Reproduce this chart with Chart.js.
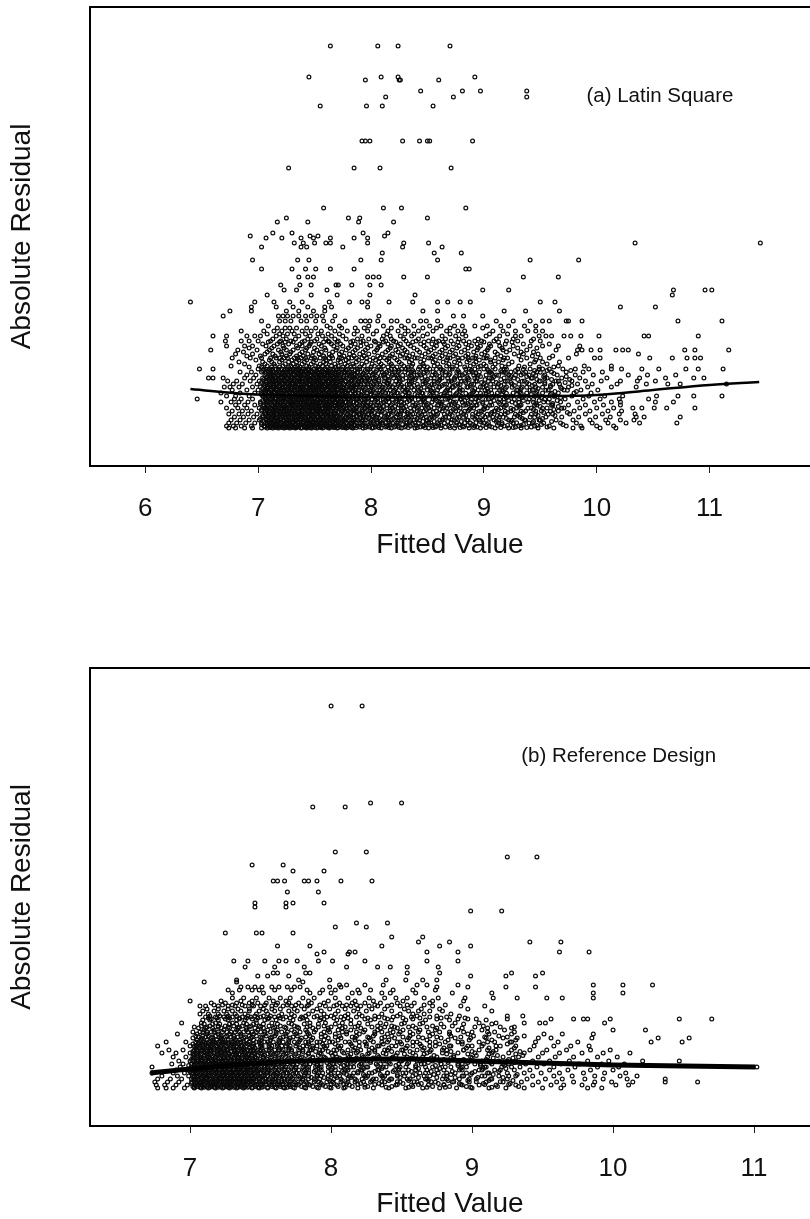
<!DOCTYPE html>
<html>
<head>
<meta charset="utf-8">
<title>Absolute residual vs fitted value</title>
<script src="https://cdn.jsdelivr.net/npm/chart.js@4/dist/chart.umd.js"></script>
<style>
  html, body { margin: 0; padding: 0; background: #fff; }
  #wrap { position: relative; width: 810px; height: 1219px; overflow: hidden; }
  canvas { position: absolute; left: 0; }
</style>
</head>
<body>
<div id="wrap">
  <canvas id="latin" width="810" height="562" style="top:0"></canvas>
  <canvas id="reference" width="810" height="621" style="top:600px"></canvas>
</div>
<script>
/* values, residual level first, then fitted values at that level */
const latinTicks = [6, 7, 8, 9, 10, 11];
const referenceTicks = [7, 8, 9, 10, 11];

const latinLineFitted = [6.40, 6.9, 7.5, 8, 8.5, 9, 9.5, 10, 10.5, 11, 11.44];
const latinLineResidual = [0.39, 0.34, 0.32, 0.31, 0.31, 0.32, 0.32, 0.33, 0.38, 0.43, 0.46];
const referenceLineFitted = [6.72, 7, 7.5, 8, 8.5, 9, 9.5, 10, 10.5, 11.01];
const referenceLineResidual = [0.15, 0.19, 0.25, 0.28, 0.29, 0.27, 0.25, 0.23, 0.22, 0.21];

const latinRows = [
  [3.82, [7.64, 8.06, 8.24, 8.70]],
  [3.51, [7.45, 8.09, 8.24, 8.92]],
  [3.48, [7.95, 8.25, 8.26, 8.60]],
  [3.37, [8.44, 8.81, 8.97, 9.38]],
  [3.31, [8.13, 8.73, 9.38]],
  [3.22, [7.55, 7.96, 8.10, 8.55]],
  [2.87, [7.92, 7.95, 7.99, 8.28, 8.43, 8.50, 8.52, 8.90]],
  [2.60, [7.27, 7.85, 8.08, 8.71]],
  [2.20, [7.58, 8.11, 8.27, 8.84]],
  [2.10, [7.25, 7.80, 7.90, 8.50]],
  [2.06, [7.17, 7.44, 7.89, 8.20]],
  [1.95, [7.13, 7.30, 7.93, 8.15]],
  [1.92, [6.93, 7.46, 7.53, 8.12]],
  [1.90, [7.07, 7.21, 7.38, 7.49, 7.64, 7.85, 7.97]],
  [1.85, [7.32, 7.40, 7.50, 7.60, 7.64, 7.97, 8.29, 8.51, 10.34, 11.45]],
  [1.81, [7.03, 7.38, 7.43, 7.75, 8.28, 8.63]],
  [1.75, [8.10, 8.56, 8.80]],
  [1.68, [6.95, 7.35, 7.45, 7.91, 8.09, 8.59, 9.41, 9.84]],
  [1.59, [7.03, 7.30, 7.42, 7.51, 7.64, 7.85, 8.84, 8.87]],
  [1.51, [7.36, 7.44, 7.49, 7.97, 8.02, 8.07, 8.29, 8.50, 9.35, 9.66]],
  [1.43, [7.20, 7.37, 7.47, 7.69, 7.71, 7.83, 7.99, 8.09]],
  [1.38, [7.23, 7.34, 7.61, 8.99, 9.22, 10.68, 10.96, 11.02]],
  [1.33, [7.08, 7.47, 7.70, 7.99, 8.39, 10.67]],
  [1.26, [6.40, 6.97, 7.14, 7.28, 7.39, 7.63, 7.81, 7.92, 7.97, 8.16, 8.37, 8.59, 8.68, 8.79, 8.88, 9.50, 9.63]],
  [1.21, [6.94, 7.16, 7.59, 7.65, 7.97, 10.21, 10.52, 7.31, 7.44]],
  [1.17, [6.75, 6.94, 7.49, 7.59, 8.46, 8.59, 9.18, 9.37, 9.67, 7.25, 7.36]],
  [1.12, [6.69, 7.18, 7.22, 7.26, 7.36, 7.47, 7.57, 8.07, 8.73, 8.82, 8.99, 7.31, 7.42, 7.52, 7.68]],
  [1.07, [7.03, 7.19, 7.24, 7.29, 7.38, 7.43, 7.51, 7.58, 7.66, 7.77, 7.91, 7.95, 7.99, 8.06, 8.18, 8.23, 8.33, 8.44, 8.49, 8.59, 9.11, 9.26, 9.41, 9.52, 9.58, 9.73, 9.75, 9.87, 10.72, 11.11]],
  [1.02, [7.09, 7.61, 7.72, 7.98, 8.11, 8.27, 8.38, 8.52, 8.62, 8.74, 8.81, 8.92, 9.03, 9.15, 9.22, 9.36, 9.46]],
  [0.97, [6.85, 7.05, 7.14, 7.21, 7.30, 7.39, 7.47, 7.56, 7.68, 7.79, 7.88, 7.97, 8.05, 8.15, 8.24, 8.33, 8.42, 8.55, 8.67, 8.77, 8.83, 9.08, 9.17, 9.28, 9.39, 9.46, 9.52]],
  [0.92, [6.60, 6.72, 6.90, 6.97, 7.02, 7.16, 7.22, 7.36, 7.46, 7.57, 7.65, 7.75, 7.92, 8.11, 8.17, 8.26, 8.36, 8.46, 8.63, 8.75, 8.84, 9.02, 9.14, 9.28, 9.33, 9.49, 9.55, 9.60, 9.71, 9.77, 9.86, 10.02, 10.42, 10.46, 10.90]],
  [0.87, [6.71, 6.85, 6.92, 7.00, 7.11, 7.20, 7.29, 7.41, 7.50, 7.62, 7.71, 7.84, 7.93, 8.03, 8.13, 8.20, 8.31, 8.40, 8.51, 8.60, 8.71, 8.82, 8.92, 8.98, 9.09, 9.20, 9.30, 9.42, 9.50]],
  [0.82, [6.72, 6.88, 6.95, 7.07, 7.14, 7.22, 7.34, 7.39, 7.45, 7.56, 7.67, 7.75, 7.82, 7.91, 8.00, 8.08, 8.18, 8.24, 8.35, 8.47, 8.58, 8.68, 8.78, 8.89, 8.97, 9.06, 9.14, 9.26, 9.41, 9.52, 9.66, 9.85]],
  [0.78, [6.58, 6.82, 6.99, 7.10, 7.18, 7.25, 7.31, 7.42, 7.52, 7.60, 7.69, 7.78, 7.86, 7.95, 8.05, 8.15, 8.22, 8.30, 8.41, 8.53, 8.63, 8.72, 8.83, 8.94, 9.03, 9.17, 9.23, 9.38, 9.64, 9.83, 9.87, 9.95, 10.03, 10.17, 10.23, 10.28, 10.78, 10.87, 11.17]],
  [0.74, [6.80, 6.95, 7.06, 7.13, 7.21, 7.28, 7.37, 7.44, 7.54, 7.63, 7.72, 7.81, 7.90, 7.98, 8.10, 8.19, 8.28, 8.37, 8.48, 8.57, 8.66, 8.75, 8.86, 8.98, 9.12, 9.27, 9.35, 9.48, 9.82, 10.37]],
  [0.70, [6.77, 6.93, 7.16, 7.23, 7.32, 7.38, 7.47, 7.55, 7.66, 7.74, 7.83, 7.92, 8.02, 8.12, 8.21, 8.32, 8.39, 8.51, 8.61, 8.70, 8.81, 8.90, 9.00, 9.10, 9.21, 9.50, 9.58, 9.75, 9.98, 10.03, 10.47, 10.67, 10.80, 10.87, 10.92]],
  [0.66, [6.83, 7.04, 7.12, 7.19, 7.27, 7.34, 7.41, 7.49, 7.58, 7.64, 7.73, 7.80, 7.87, 7.96, 8.07, 8.16, 8.25, 8.34, 8.44, 8.55, 8.64, 8.74, 8.85, 8.93, 9.06, 9.13, 9.25, 9.45, 9.52, 9.67]],
  [0.62, [6.76, 7.01, 7.08, 7.15, 7.22, 7.29, 7.35, 7.43, 7.51, 7.57, 7.65, 7.71, 7.79, 7.85, 7.94, 8.03, 8.11, 8.19, 8.29, 8.36, 8.47, 8.56, 8.67, 8.76, 8.88, 8.97, 9.02, 9.16, 9.31, 9.66, 9.89, 10.13]],
  [0.59, [6.48, 6.60, 7.00, 7.05, 7.10, 7.16, 7.21, 7.26, 7.31, 7.36, 7.40, 7.45, 7.50, 7.55, 7.60, 7.66, 7.74, 7.83, 7.90, 7.99, 8.08, 8.18, 8.27, 8.33, 8.42, 8.52, 8.62, 8.72, 8.84, 8.92, 9.00, 9.10, 9.20, 9.30, 9.41, 9.52, 9.58, 9.70, 9.81, 9.93, 10.13, 10.22, 10.40, 10.55, 10.79, 10.90, 11.12]],
  [0.56, [6.84, 6.94, 7.03, 7.09, 7.13, 7.19, 7.24, 7.29, 7.33, 7.38, 7.43, 7.48, 7.53, 7.58, 7.63, 7.69, 7.77, 7.81, 7.88, 7.96, 8.04, 8.14, 8.21, 8.30, 8.38, 8.47, 8.55, 8.66, 8.78, 8.87, 8.96, 9.06, 9.16, 9.24, 9.37, 9.47, 9.60, 9.73, 9.88, 10.05]],
  [0.53, [6.90, 6.98, 7.06, 7.12, 7.17, 7.22, 7.27, 7.32, 7.37, 7.41, 7.46, 7.51, 7.56, 7.61, 7.65, 7.71, 7.79, 7.86, 7.92, 8.01, 8.11, 8.23, 8.35, 8.44, 8.58, 8.69, 8.81, 8.91, 9.02, 9.11, 9.22, 9.33, 9.40, 9.54, 9.65, 9.81, 9.97, 10.28, 10.45, 10.70]],
  [0.50, [6.56, 6.60, 6.69, 6.88, 6.96, 7.04, 7.10, 7.15, 7.20, 7.25, 7.30, 7.35, 7.39, 7.44, 7.49, 7.54, 7.59, 7.64, 7.70, 7.76, 7.84, 7.94, 8.02, 8.12, 8.20, 8.31, 8.40, 8.53, 8.63, 8.74, 8.86, 8.94, 9.05, 9.18, 9.27, 9.43, 9.56, 9.69, 9.85, 10.09, 10.38, 10.61, 10.86, 10.95]],
  [0.47, [6.73, 6.81, 6.93, 7.01, 7.07, 7.13, 7.18, 7.23, 7.28, 7.33, 7.37, 7.42, 7.47, 7.52, 7.57, 7.62, 7.68, 7.73, 7.82, 7.91, 7.98, 8.07, 8.16, 8.26, 8.36, 8.49, 8.60, 8.71, 8.83, 8.93, 9.08, 9.21, 9.36, 9.50, 9.64, 9.78, 9.90, 10.04, 10.21, 10.36, 10.52]],
  [0.44, [6.78, 6.86, 6.99, 7.05, 7.11, 7.16, 7.21, 7.26, 7.31, 7.35, 7.40, 7.45, 7.50, 7.55, 7.60, 7.66, 7.72, 7.80, 7.87, 7.97, 8.05, 8.15, 8.24, 8.34, 8.46, 8.56, 8.67, 8.77, 8.89, 9.00, 9.13, 9.25, 9.40, 9.54, 9.67, 9.83, 9.96, 10.18, 10.44, 10.63, 10.74, 11.15]],
  [0.41, [6.70, 6.75, 6.83, 6.95, 7.02, 7.08, 7.14, 7.19, 7.24, 7.29, 7.34, 7.39, 7.43, 7.48, 7.53, 7.58, 7.63, 7.69, 7.75, 7.83, 7.93, 8.01, 8.10, 8.19, 8.29, 8.42, 8.52, 8.61, 8.72, 8.85, 8.97, 9.09, 9.20, 9.34, 9.46, 9.59, 9.75, 9.92, 10.13, 10.35]],
  [0.38, [6.77, 6.90, 7.00, 7.06, 7.12, 7.17, 7.22, 7.27, 7.32, 7.37, 7.41, 7.46, 7.51, 7.56, 7.61, 7.67, 7.74, 7.81, 7.89, 7.99, 8.08, 8.17, 8.28, 8.38, 8.50, 8.59, 8.70, 8.81, 8.95, 9.06, 9.16, 9.30, 9.43, 9.57, 9.71, 9.86, 10.01]],
  [0.35, [6.67, 6.84, 6.97, 7.03, 7.10, 7.15, 7.20, 7.25, 7.30, 7.35, 7.40, 7.44, 7.49, 7.54, 7.59, 7.65, 7.71, 7.78, 7.86, 7.96, 8.04, 8.13, 8.23, 8.33, 8.45, 8.55, 8.65, 8.76, 8.90, 9.02, 9.12, 9.26, 9.38, 9.52, 9.66, 9.80, 9.95]],
  [0.32, [6.72, 6.80, 6.92, 7.04, 7.09, 7.13, 7.18, 7.23, 7.28, 7.33, 7.38, 7.42, 7.47, 7.52, 7.57, 7.62, 7.68, 7.76, 7.84, 7.92, 8.02, 8.10, 8.21, 8.31, 8.41, 8.53, 8.64, 8.74, 8.87, 8.98, 9.11, 9.24, 9.36, 9.49, 9.63, 9.78, 9.93, 10.07, 10.23, 10.53, 10.72, 10.86, 11.11]],
  [0.29, [6.46, 6.79, 6.85, 6.95, 7.06, 7.11, 7.16, 7.21, 7.26, 7.31, 7.36, 7.41, 7.45, 7.50, 7.55, 7.60, 7.66, 7.73, 7.80, 7.88, 7.97, 8.06, 8.15, 8.25, 8.36, 8.47, 8.57, 8.68, 8.80, 8.93, 9.04, 9.18, 9.31, 9.44, 9.58, 9.72, 9.88, 10.03, 10.20, 10.46]],
  [0.26, [6.67, 6.76, 6.83, 6.91, 7.02, 7.08, 7.14, 7.19, 7.24, 7.29, 7.34, 7.38, 7.43, 7.48, 7.53, 7.58, 7.63, 7.69, 7.77, 7.85, 7.94, 8.03, 8.11, 8.22, 8.32, 8.44, 8.54, 8.63, 8.75, 8.88, 8.99, 9.13, 9.25, 9.39, 9.53, 9.68, 9.83, 9.98, 10.13, 10.21, 10.52, 10.68]],
  [0.23, [6.80, 6.88, 6.97, 7.05, 7.12, 7.17, 7.22, 7.27, 7.32, 7.37, 7.42, 7.46, 7.51, 7.56, 7.61, 7.67, 7.72, 7.81, 7.90, 7.99, 8.07, 8.18, 8.27, 8.39, 8.49, 8.60, 8.71, 8.84, 8.94, 9.07, 9.20, 9.33, 9.47, 9.61, 9.75, 9.90, 10.06, 10.21]],
  [0.20, [6.72, 6.82, 6.90, 7.01, 7.07, 7.13, 7.18, 7.23, 7.28, 7.33, 7.38, 7.42, 7.47, 7.52, 7.57, 7.63, 7.70, 7.78, 7.87, 7.95, 8.04, 8.14, 8.24, 8.35, 8.45, 8.56, 8.67, 8.79, 8.91, 9.03, 9.15, 9.29, 9.42, 9.56, 9.71, 9.85, 10.00, 10.15, 10.32, 10.40, 10.51, 10.62, 10.87]],
  [0.17, [6.77, 6.86, 6.94, 7.03, 7.10, 7.15, 7.20, 7.25, 7.30, 7.35, 7.40, 7.44, 7.49, 7.54, 7.59, 7.65, 7.75, 7.84, 7.92, 8.01, 8.10, 8.20, 8.30, 8.41, 8.52, 8.63, 8.75, 8.86, 8.98, 9.10, 9.24, 9.37, 9.51, 9.66, 9.80, 9.94, 10.10, 10.22]],
  [0.14, [6.74, 6.83, 6.91, 6.99, 7.06, 7.12, 7.17, 7.22, 7.27, 7.32, 7.37, 7.42, 7.46, 7.51, 7.56, 7.61, 7.68, 7.79, 7.89, 7.97, 8.06, 8.16, 8.26, 8.37, 8.48, 8.59, 8.70, 8.82, 8.95, 9.06, 9.19, 9.32, 9.46, 9.61, 9.76, 9.90, 10.05, 10.20, 10.34]],
  [0.11, [6.79, 6.87, 6.96, 7.04, 7.09, 7.14, 7.19, 7.24, 7.29, 7.34, 7.39, 7.44, 7.48, 7.53, 7.58, 7.64, 7.72, 7.82, 7.93, 8.02, 8.12, 8.22, 8.33, 8.44, 8.54, 8.66, 8.78, 8.90, 9.01, 9.14, 9.27, 9.41, 9.55, 9.69, 9.84, 9.99, 10.12, 10.35, 10.42, 10.74]],
  [0.08, [6.76, 6.84, 6.92, 7.01, 7.07, 7.12, 7.17, 7.22, 7.27, 7.32, 7.37, 7.41, 7.46, 7.51, 7.56, 7.62, 7.69, 7.77, 7.86, 7.95, 8.05, 8.15, 8.27, 8.38, 8.49, 8.61, 8.72, 8.85, 8.96, 9.09, 9.22, 9.36, 9.49, 9.64, 9.79, 9.94, 10.08, 10.21, 10.33]],
  [0.05, [6.74, 6.81, 6.89, 6.97, 7.03, 7.10, 7.15, 7.20, 7.25, 7.30, 7.35, 7.40, 7.44, 7.49, 7.54, 7.59, 7.66, 7.74, 7.83, 7.91, 8.00, 8.10, 8.19, 8.31, 8.42, 8.53, 8.65, 8.76, 8.88, 9.00, 9.13, 9.26, 9.40, 9.53, 9.68, 9.82, 9.96, 10.10, 10.26, 10.38, 10.71]],
  [0.02, [6.72, 6.78, 6.85, 6.94, 7.05, 7.11, 7.16, 7.21, 7.26, 7.31, 7.36, 7.41, 7.45, 7.50, 7.55, 7.60, 7.67, 7.72, 7.80, 7.88, 7.96, 8.06, 8.14, 8.24, 8.35, 8.46, 8.58, 8.69, 8.81, 8.92, 9.05, 9.18, 9.31, 9.45, 9.58, 9.73, 9.86, 10.00, 10.15]],
  [0.00, [6.74, 6.80, 6.88, 6.95, 7.03, 7.08, 7.13, 7.18, 7.23, 7.28, 7.33, 7.38, 7.43, 7.47, 7.52, 7.57, 7.63, 7.70, 7.78, 7.84, 7.93, 8.01, 8.09, 8.18, 8.27, 8.39, 8.51, 8.62, 8.74, 8.87, 8.97, 9.10, 9.22, 9.33, 9.48, 9.62, 9.79, 9.87, 10.03, 10.17]]
];

/* the solid black part of panel (a) and the busy band over it */
const latinDenseRows = [
  [0.01, [7.06, 7.10, 7.15, 7.19, 7.24, 7.27, 7.32, 7.35, 7.41, 7.44, 7.48, 7.53, 7.56, 7.61, 7.65, 7.68, 7.74, 7.77, 7.82, 7.90, 7.98, 8.04, 8.13, 8.21, 8.30, 8.44, 8.57, 8.66, 8.82, 8.94, 9.07, 9.28, 9.42, 9.56]],
  [0.035, [7.03, 7.08, 7.12, 7.17, 7.22, 7.26, 7.29, 7.34, 7.38, 7.43, 7.47, 7.51, 7.55, 7.59, 7.64, 7.69, 7.72, 7.76, 7.85, 7.93, 8.03, 8.11, 8.17, 8.28, 8.37, 8.49, 8.60, 8.78, 8.90, 9.03, 9.16, 9.35, 9.51, 9.70]],
  [0.065, [7.05, 7.09, 7.14, 7.18, 7.23, 7.28, 7.31, 7.36, 7.40, 7.45, 7.49, 7.53, 7.58, 7.61, 7.66, 7.70, 7.75, 7.80, 7.84, 7.92, 7.99, 8.08, 8.16, 8.24, 8.34, 8.46, 8.56, 8.68, 8.80, 8.97, 9.11, 9.24, 9.44, 9.60]],
  [0.095, [7.02, 7.07, 7.11, 7.16, 7.20, 7.25, 7.30, 7.33, 7.38, 7.42, 7.47, 7.50, 7.55, 7.60, 7.63, 7.67, 7.73, 7.78, 7.85, 7.90, 7.98, 8.04, 8.13, 8.20, 8.29, 8.41, 8.52, 8.64, 8.76, 8.92, 9.05, 9.20, 9.34, 9.52]],
  [0.125, [7.04, 7.09, 7.13, 7.18, 7.22, 7.26, 7.31, 7.35, 7.39, 7.44, 7.48, 7.52, 7.57, 7.62, 7.66, 7.70, 7.75, 7.81, 7.87, 7.94, 8.01, 8.09, 8.18, 8.26, 8.35, 8.45, 8.58, 8.72, 8.84, 8.99, 9.12, 9.30, 9.48, 9.63]],
  [0.155, [7.06, 7.10, 7.14, 7.19, 7.23, 7.27, 7.32, 7.36, 7.41, 7.45, 7.50, 7.53, 7.58, 7.62, 7.67, 7.71, 7.77, 7.82, 7.88, 7.95, 8.03, 8.12, 8.22, 8.32, 8.43, 8.55, 8.68, 8.80, 8.93, 9.07, 9.21, 9.35, 9.53, 9.74]],
  [0.185, [7.03, 7.08, 7.12, 7.16, 7.21, 7.25, 7.30, 7.34, 7.39, 7.43, 7.46, 7.51, 7.55, 7.60, 7.64, 7.69, 7.74, 7.79, 7.85, 7.92, 7.99, 8.08, 8.17, 8.27, 8.38, 8.49, 8.61, 8.73, 8.87, 9.00, 9.13, 9.26, 9.44, 9.62]],
  [0.215, [7.05, 7.09, 7.15, 7.19, 7.24, 7.29, 7.33, 7.38, 7.42, 7.47, 7.50, 7.54, 7.59, 7.64, 7.68, 7.72, 7.76, 7.83, 7.88, 7.96, 8.02, 8.11, 8.21, 8.31, 8.42, 8.53, 8.65, 8.77, 8.89, 9.01, 9.18, 9.31, 9.50, 9.66]],
  [0.245, [7.02, 7.07, 7.11, 7.15, 7.20, 7.26, 7.30, 7.35, 7.40, 7.44, 7.49, 7.53, 7.58, 7.62, 7.65, 7.71, 7.75, 7.80, 7.87, 7.93, 8.00, 8.09, 8.19, 8.29, 8.40, 8.50, 8.62, 8.74, 8.86, 8.99, 9.14, 9.28, 9.46, 9.61]],
  [0.275, [7.04, 7.08, 7.13, 7.18, 7.22, 7.27, 7.32, 7.36, 7.39, 7.43, 7.48, 7.52, 7.57, 7.61, 7.66, 7.70, 7.74, 7.82, 7.89, 7.95, 8.04, 8.13, 8.23, 8.34, 8.46, 8.58, 8.70, 8.83, 8.95, 9.09, 9.22, 9.35, 9.49, 9.65]],
  [0.305, [7.06, 7.10, 7.15, 7.20, 7.24, 7.29, 7.34, 7.37, 7.41, 7.46, 7.50, 7.55, 7.59, 7.64, 7.67, 7.72, 7.78, 7.83, 7.90, 7.98, 8.06, 8.15, 8.26, 8.36, 8.48, 8.60, 8.71, 8.85, 8.96, 9.07, 9.20, 9.34, 9.51, 9.68]],
  [0.335, [7.03, 7.07, 7.12, 7.17, 7.22, 7.25, 7.31, 7.36, 7.39, 7.44, 7.48, 7.53, 7.56, 7.61, 7.65, 7.69, 7.74, 7.79, 7.86, 7.91, 8.00, 8.08, 8.18, 8.28, 8.39, 8.52, 8.62, 8.75, 8.88, 9.02, 9.16, 9.29, 9.42, 9.59]],
  [0.365, [7.05, 7.09, 7.14, 7.18, 7.23, 7.28, 7.33, 7.37, 7.42, 7.47, 7.51, 7.54, 7.58, 7.63, 7.68, 7.73, 7.77, 7.84, 7.92, 8.00, 8.10, 8.20, 8.30, 8.43, 8.54, 8.66, 8.79, 8.91, 9.04, 9.17, 9.32, 9.47, 9.63, 9.82]],
  [0.395, [7.04, 7.08, 7.11, 7.16, 7.21, 7.26, 7.30, 7.35, 7.40, 7.45, 7.49, 7.52, 7.57, 7.62, 7.66, 7.71, 7.76, 7.82, 7.87, 7.95, 8.03, 8.12, 8.22, 8.33, 8.44, 8.55, 8.68, 8.79, 8.92, 9.03, 9.19, 9.33, 9.48, 9.69]],
  [0.425, [7.06, 7.10, 7.14, 7.19, 7.24, 7.28, 7.33, 7.38, 7.41, 7.46, 7.51, 7.55, 7.59, 7.64, 7.68, 7.72, 7.79, 7.85, 7.91, 8.00, 8.08, 8.17, 8.27, 8.38, 8.51, 8.63, 8.75, 8.88, 9.02, 9.15, 9.27, 9.43, 9.59, 9.78]],
  [0.455, [7.03, 7.07, 7.12, 7.17, 7.22, 7.27, 7.31, 7.34, 7.39, 7.43, 7.48, 7.53, 7.56, 7.62, 7.66, 7.70, 7.75, 7.81, 7.89, 7.96, 8.04, 8.14, 8.25, 8.36, 8.48, 8.59, 8.72, 8.84, 8.98, 9.11, 9.24, 9.38, 9.54, 9.72]],
  [0.485, [7.05, 7.09, 7.13, 7.18, 7.23, 7.28, 7.32, 7.37, 7.42, 7.46, 7.50, 7.54, 7.60, 7.65, 7.69, 7.74, 7.80, 7.86, 7.92, 7.99, 8.07, 8.16, 8.28, 8.39, 8.50, 8.61, 8.74, 8.87, 9.01, 9.15, 9.30, 9.47, 9.60, 9.76]],
  [0.515, [7.08, 7.12, 7.15, 7.20, 7.24, 7.29, 7.34, 7.38, 7.43, 7.47, 7.52, 7.57, 7.61, 7.66, 7.70, 7.76, 7.83, 7.88, 7.96, 8.05, 8.15, 8.24, 8.36, 8.48, 8.61, 8.75, 8.85, 8.97, 9.09, 9.24, 9.38, 9.53, 9.73]],
  [0.545, [7.07, 7.11, 7.16, 7.21, 7.26, 7.31, 7.35, 7.40, 7.44, 7.49, 7.54, 7.59, 7.63, 7.68, 7.74, 7.80, 7.85, 7.93, 8.02, 8.12, 8.19, 8.33, 8.43, 8.57, 8.70, 8.83, 8.93, 9.07, 9.20, 9.35, 9.44, 9.62]],
  [0.575, [7.04, 7.09, 7.13, 7.18, 7.23, 7.28, 7.33, 7.38, 7.42, 7.47, 7.52, 7.57, 7.62, 7.67, 7.72, 7.78, 7.86, 7.95, 8.05, 8.16, 8.25, 8.37, 8.49, 8.64, 8.77, 8.89, 9.04, 9.15, 9.28, 9.45, 9.56, 9.77]],
  [0.61, [6.92, 7.03, 7.12, 7.19, 7.27, 7.33, 7.37, 7.45, 7.53, 7.61, 7.69, 7.75, 7.82, 7.90, 8.00, 8.07, 8.15, 8.23, 8.33, 8.43, 8.50, 8.61, 8.72, 8.83, 8.95, 9.08, 9.19, 9.36, 9.49, 9.62]],
  [0.64, [6.88, 7.06, 7.14, 7.24, 7.31, 7.39, 7.47, 7.55, 7.60, 7.68, 7.77, 7.84, 7.92, 8.01, 8.09, 8.18, 8.27, 8.37, 8.46, 8.59, 8.69, 8.79, 8.91, 9.00, 9.10, 9.22, 9.41, 9.56]],
  [0.68, [6.98, 7.10, 7.21, 7.30, 7.36, 7.43, 7.51, 7.60, 7.71, 7.78, 7.89, 7.99, 8.04, 8.14, 8.23, 8.36, 8.47, 8.57, 8.67, 8.78, 8.87, 8.96, 9.06, 9.17, 9.33, 9.46]],
  [0.72, [6.90, 7.02, 7.15, 7.25, 7.34, 7.40, 7.48, 7.58, 7.65, 7.76, 7.85, 7.94, 8.06, 8.17, 8.26, 8.34, 8.45, 8.55, 8.63, 8.73, 8.84, 8.93, 9.03, 9.15, 9.31, 9.43, 9.61]],
  [0.76, [6.87, 7.08, 7.20, 7.29, 7.39, 7.49, 7.56, 7.66, 7.74, 7.84, 7.93, 8.03, 8.13, 8.24, 8.32, 8.43, 8.51, 8.61, 8.70, 8.80, 8.91, 9.01, 9.10, 9.20, 9.33, 9.44]],
  [0.80, [6.92, 7.12, 7.23, 7.35, 7.43, 7.50, 7.59, 7.70, 7.80, 7.88, 7.97, 8.06, 8.17, 8.28, 8.38, 8.49, 8.56, 8.66, 8.76, 8.86, 8.95, 9.04, 9.16, 9.30, 9.47]],
  [0.84, [7.04, 7.17, 7.27, 7.37, 7.46, 7.54, 7.65, 7.73, 7.86, 7.96, 8.07, 8.15, 8.26, 8.33, 8.44, 8.54, 8.65, 8.73, 8.84, 8.94, 9.05, 9.19, 9.35, 9.58]],
  [0.89, [7.13, 7.25, 7.33, 7.44, 7.52, 7.60, 7.68, 7.78, 7.88, 7.98, 8.10, 8.18, 8.29, 8.42, 8.55, 8.66, 8.78, 8.95, 9.11, 9.26, 9.44]],
  [0.94, [7.08, 7.19, 7.26, 7.32, 7.42, 7.53, 7.62, 7.72, 7.85, 8.02, 8.14, 8.30, 8.38, 8.50, 8.70, 8.81, 9.05, 9.21]],
  [1.00, [7.17, 7.24, 7.28, 7.34, 7.43, 7.51, 7.64, 7.74, 7.86, 7.94, 8.18, 8.30, 8.46, 8.58, 8.70, 8.99]]
];

/* extra layer where the black of panel (a) closes up */
const latinFillRows = [
  [0.004, [7.11, 7.16, 7.21, 7.25, 7.30, 7.34, 7.39, 7.42, 7.46, 7.50, 7.55, 7.58, 7.62, 7.67, 7.71, 7.75, 7.79, 7.83, 7.87, 7.95, 8.02, 8.07, 8.16, 8.25, 8.33, 8.41, 8.48, 8.55, 8.70, 8.79, 8.91, 9.02, 9.15, 9.26, 9.38]],
  [0.026, [7.09, 7.14, 7.18, 7.23, 7.28, 7.33, 7.37, 7.42, 7.46, 7.49, 7.54, 7.58, 7.62, 7.66, 7.71, 7.75, 7.81, 7.86, 7.92, 7.98, 8.07, 8.15, 8.22, 8.31, 8.40, 8.47, 8.54, 8.62, 8.75, 8.86, 8.99, 9.12, 9.21, 9.33, 9.47]],
  [0.052, [7.08, 7.13, 7.17, 7.21, 7.27, 7.31, 7.36, 7.39, 7.43, 7.48, 7.52, 7.56, 7.60, 7.64, 7.68, 7.73, 7.78, 7.82, 7.87, 7.94, 8.02, 8.06, 8.13, 8.23, 8.32, 8.39, 8.51, 8.59, 8.71, 8.83, 8.93, 9.04, 9.16, 9.29, 9.43]],
  [0.078, [7.10, 7.15, 7.20, 7.25, 7.29, 7.34, 7.38, 7.43, 7.47, 7.50, 7.54, 7.59, 7.64, 7.68, 7.71, 7.76, 7.81, 7.88, 7.93, 8.00, 8.09, 8.18, 8.25, 8.35, 8.43, 8.50, 8.63, 8.74, 8.86, 8.99, 9.13, 9.25, 9.37, 9.50]],
  [0.108, [7.08, 7.12, 7.17, 7.22, 7.27, 7.32, 7.36, 7.41, 7.45, 7.49, 7.53, 7.57, 7.61, 7.65, 7.69, 7.74, 7.80, 7.84, 7.91, 7.96, 8.05, 8.14, 8.22, 8.31, 8.39, 8.49, 8.56, 8.69, 8.82, 8.94, 9.08, 9.17, 9.32, 9.45]],
  [0.138, [7.07, 7.11, 7.16, 7.20, 7.25, 7.29, 7.33, 7.38, 7.43, 7.47, 7.51, 7.55, 7.60, 7.64, 7.68, 7.73, 7.79, 7.85, 7.90, 7.98, 8.06, 8.15, 8.24, 8.33, 8.42, 8.53, 8.65, 8.77, 8.90, 9.03, 9.15, 9.28, 9.42, 9.57]],
  [0.168, [7.08, 7.13, 7.17, 7.22, 7.26, 7.31, 7.35, 7.39, 7.44, 7.48, 7.52, 7.56, 7.61, 7.65, 7.69, 7.74, 7.80, 7.86, 7.93, 7.99, 8.07, 8.17, 8.27, 8.36, 8.47, 8.58, 8.71, 8.83, 8.96, 9.09, 9.19, 9.33, 9.46, 9.59]],
  [0.198, [7.06, 7.11, 7.15, 7.20, 7.25, 7.30, 7.35, 7.40, 7.45, 7.49, 7.53, 7.57, 7.62, 7.66, 7.70, 7.75, 7.81, 7.87, 7.94, 8.00, 8.09, 8.19, 8.29, 8.41, 8.51, 8.64, 8.75, 8.88, 9.00, 9.11, 9.24, 9.39, 9.52, 9.69]],
  [0.228, [7.08, 7.13, 7.18, 7.23, 7.26, 7.31, 7.36, 7.40, 7.44, 7.48, 7.52, 7.57, 7.60, 7.65, 7.70, 7.74, 7.79, 7.85, 7.92, 7.97, 8.05, 8.14, 8.25, 8.37, 8.47, 8.59, 8.69, 8.82, 8.93, 9.05, 9.19, 9.32, 9.45, 9.60]],
  [0.258, [7.09, 7.14, 7.17, 7.22, 7.28, 7.32, 7.37, 7.41, 7.46, 7.51, 7.55, 7.60, 7.64, 7.68, 7.73, 7.78, 7.84, 7.90, 7.97, 8.06, 8.16, 8.27, 8.37, 8.48, 8.61, 8.73, 8.81, 8.92, 9.06, 9.18, 9.31, 9.44, 9.57]],
  [0.288, [7.07, 7.12, 7.15, 7.20, 7.25, 7.30, 7.35, 7.38, 7.42, 7.47, 7.53, 7.56, 7.61, 7.66, 7.71, 7.76, 7.81, 7.87, 7.94, 8.01, 8.11, 8.19, 8.30, 8.42, 8.55, 8.66, 8.79, 8.89, 9.02, 9.14, 9.27, 9.40, 9.54]],
  [0.318, [7.08, 7.13, 7.19, 7.22, 7.27, 7.30, 7.35, 7.40, 7.44, 7.49, 7.54, 7.58, 7.63, 7.67, 7.70, 7.75, 7.81, 7.88, 7.94, 8.03, 8.12, 8.19, 8.33, 8.44, 8.56, 8.68, 8.80, 8.94, 9.08, 9.19, 9.32, 9.45, 9.62]],
  [0.348, [7.09, 7.14, 7.18, 7.23, 7.28, 7.33, 7.38, 7.42, 7.46, 7.51, 7.55, 7.60, 7.63, 7.67, 7.72, 7.77, 7.82, 7.89, 7.97, 8.06, 8.15, 8.24, 8.34, 8.46, 8.58, 8.70, 8.84, 8.97, 9.07, 9.20, 9.33, 9.46, 9.60]],
  [0.378, [7.07, 7.11, 7.16, 7.20, 7.26, 7.30, 7.35, 7.39, 7.44, 7.49, 7.53, 7.57, 7.61, 7.66, 7.70, 7.75, 7.80, 7.86, 7.94, 8.02, 8.11, 8.21, 8.32, 8.42, 8.53, 8.67, 8.78, 8.90, 9.01, 9.14, 9.29, 9.41, 9.55, 9.74]],
  [0.408, [7.09, 7.13, 7.18, 7.22, 7.27, 7.32, 7.37, 7.42, 7.47, 7.50, 7.54, 7.59, 7.64, 7.67, 7.73, 7.78, 7.84, 7.90, 7.98, 8.07, 8.16, 8.26, 8.36, 8.47, 8.60, 8.73, 8.86, 8.99, 9.12, 9.25, 9.38, 9.52, 9.68]],
  [0.438, [7.08, 7.13, 7.16, 7.21, 7.26, 7.30, 7.35, 7.40, 7.45, 7.48, 7.52, 7.57, 7.62, 7.65, 7.70, 7.76, 7.83, 7.88, 7.94, 8.02, 8.11, 8.21, 8.32, 8.41, 8.54, 8.65, 8.79, 8.91, 9.06, 9.18, 9.31, 9.45, 9.61]],
  [0.468, [7.10, 7.15, 7.20, 7.24, 7.29, 7.35, 7.39, 7.44, 7.49, 7.54, 7.58, 7.63, 7.67, 7.71, 7.77, 7.83, 7.89, 7.95, 8.03, 8.12, 8.22, 8.34, 8.46, 8.56, 8.69, 8.80, 8.94, 9.04, 9.19, 9.34, 9.49, 9.66]],
  [0.498, [7.11, 7.16, 7.21, 7.26, 7.30, 7.35, 7.40, 7.45, 7.48, 7.52, 7.56, 7.62, 7.67, 7.72, 7.78, 7.85, 7.90, 7.97, 8.04, 8.13, 8.25, 8.35, 8.45, 8.56, 8.68, 8.79, 8.92, 9.07, 9.23, 9.42, 9.54]],
  [0.528, [7.10, 7.14, 7.18, 7.23, 7.27, 7.32, 7.36, 7.41, 7.46, 7.50, 7.55, 7.59, 7.64, 7.69, 7.73, 7.81, 7.90, 7.98, 8.09, 8.19, 8.28, 8.41, 8.54, 8.66, 8.79, 8.95, 9.13, 9.28, 9.46]],
  [0.558, [7.11, 7.14, 7.19, 7.25, 7.28, 7.34, 7.39, 7.42, 7.47, 7.51, 7.56, 7.61, 7.65, 7.71, 7.76, 7.83, 7.91, 8.00, 8.10, 8.24, 8.36, 8.50, 8.63, 8.76, 8.90, 9.05, 9.18, 9.31, 9.50]],
  [0.588, [7.07, 7.12, 7.18, 7.24, 7.29, 7.34, 7.39, 7.44, 7.49, 7.54, 7.59, 7.64, 7.70, 7.79, 7.88, 7.97, 8.09, 8.21, 8.31, 8.46, 8.58, 8.70, 8.87, 9.03, 9.18, 9.35, 9.49]],
  [0.70, [7.03, 7.11, 7.19, 7.26, 7.35, 7.42, 7.50, 7.59, 7.63, 7.72, 7.80, 7.87, 7.96, 8.08, 8.16, 8.30, 8.41, 8.53, 8.68, 8.77, 8.86, 8.92, 9.02, 9.18, 9.38]],
  [0.86, [7.09, 7.19, 7.24, 7.31, 7.39, 7.47, 7.58, 7.63, 7.70, 7.82, 7.91, 8.04, 8.11, 8.22, 8.37, 8.47, 8.58, 8.64, 8.77, 8.87, 9.00, 9.13, 9.25]]
];

const referenceRows = [
  [3.82, [8.00, 8.22]],
  [2.85, [8.28, 8.50]],
  [2.81, [7.87, 8.10]],
  [2.36, [8.03, 8.25]],
  [2.31, [9.25, 9.46]],
  [2.23, [7.44, 7.66]],
  [2.17, [7.73, 7.95]],
  [2.07, [7.59, 7.62, 7.67, 7.81, 7.84, 7.90, 8.07, 8.29]],
  [1.96, [7.69, 7.91]],
  [1.85, [7.46, 7.68, 7.73, 7.95]],
  [1.81, [7.46, 7.68]],
  [1.77, [8.99, 9.21]],
  [1.65, [8.18, 8.40]],
  [1.61, [8.03, 8.25]],
  [1.55, [7.25, 7.47, 7.51, 7.73]],
  [1.51, [8.43, 8.65]],
  [1.46, [8.62, 8.84, 9.41, 9.63]],
  [1.42, [7.62, 7.85, 8.36, 8.77, 8.99]],
  [1.36, [7.95, 8.13, 8.17, 8.68, 8.90, 9.62, 9.83]],
  [1.34, [7.90, 8.12]],
  [1.27, [7.31, 7.41, 7.53, 7.63, 7.68, 7.76, 7.91, 8.01, 8.24, 8.68, 8.90]],
  [1.21, [7.39, 7.60, 7.81, 8.11, 8.33, 8.42, 8.54, 8.76]],
  [1.15, [7.59, 7.62, 7.82, 7.85, 8.54, 8.77, 9.28, 9.50]],
  [1.12, [7.48, 7.55, 7.70, 8.99, 9.24, 9.45]],
  [1.08, [7.33, 7.77, 7.99, 8.39, 8.53, 8.65, 8.75]],
  [1.06, [7.10, 7.33, 7.80]],
  [1.03, [8.06, 8.11, 8.24, 8.37, 8.61, 8.68, 8.90, 9.86, 10.07, 10.28]],
  [1.01, [7.36, 7.41, 7.46, 7.51, 7.58, 7.63, 7.69, 7.74, 7.78, 7.99, 8.07, 8.75, 8.97, 9.24, 9.45]],
  [0.95, [7.30, 7.52, 7.85, 7.92, 8.00, 8.15, 8.20, 8.36, 8.42, 8.60, 8.86, 9.14, 9.86, 10.07]],
  [0.90, [7.30, 7.38, 7.47, 7.56, 7.64, 7.71, 7.80, 7.88, 8.03, 8.12, 8.27, 8.38, 8.46, 8.54, 8.66, 8.76, 8.95, 9.15, 9.32, 9.53, 9.64, 9.86]],
  [0.87, [7.00, 7.22, 7.36, 7.44, 7.59, 7.68, 7.84, 7.98, 8.17, 8.30, 8.51, 8.72, 8.94]],
  [0.82, [7.07, 7.11, 7.20, 7.27, 7.32, 7.39, 7.45, 7.50, 7.58, 7.66, 7.72, 7.79, 7.83, 7.96, 8.02, 8.08, 8.14, 8.21, 8.27, 8.33, 8.40, 8.49, 8.57, 8.72, 8.92, 9.09]],
  [0.77, [7.09, 7.17, 7.24, 7.30, 7.36, 7.42, 7.49, 7.54, 7.60, 7.70, 7.76, 7.87, 7.93, 8.05, 8.16, 8.25, 8.43, 8.55, 8.62, 8.70, 8.79, 9.14]],
  [0.72, [7.14, 7.21, 7.27, 7.33, 7.41, 7.46, 7.52, 7.57, 7.63, 7.74, 7.82, 7.90, 8.00, 8.10, 8.22, 8.31, 8.47, 8.61, 8.75, 8.91, 9.25, 9.36]],
  [0.69, [7.15, 7.25, 7.35, 7.44, 7.55, 7.66, 7.78, 7.95, 8.09, 8.24, 8.31, 8.40, 8.58, 8.75, 8.90, 8.97, 9.03, 9.25, 9.56, 9.72, 9.79, 9.82, 9.98, 10.47, 10.70]],
  [0.65, [6.94, 7.08, 7.18, 7.30, 7.38, 7.47, 7.58, 7.70, 7.85, 7.96, 8.08, 8.20, 8.35, 8.52, 8.65, 8.88, 9.05, 9.17, 9.37, 9.48, 9.52, 9.94]],
  [0.61, [7.03, 7.12, 7.20, 7.27, 7.35, 7.42, 7.50, 7.60, 7.67, 7.76, 7.83, 7.91, 8.00, 8.10, 8.17, 8.29, 8.38, 8.45, 8.55, 8.68, 8.80, 9.02, 9.20, 9.30]],
  [0.58, [7.10, 7.17, 7.24, 7.33, 7.40, 7.48, 7.55, 7.62, 7.72, 7.82, 7.89, 7.98, 8.05, 8.14, 8.24, 8.33, 8.42, 8.51, 8.63, 8.74, 8.90, 9.07, 9.23, 10.00, 10.23]],
  [0.54, [6.91, 7.05, 7.12, 7.20, 7.28, 7.36, 7.45, 7.53, 7.61, 7.68, 7.75, 7.84, 7.93, 8.03, 8.11, 8.20, 8.31, 8.40, 8.48, 8.58, 8.72, 8.84, 8.97, 9.12, 9.28, 9.51, 9.64, 9.86]],
  [0.50, [7.02, 7.08, 7.15, 7.22, 7.31, 7.38, 7.43, 7.51, 7.57, 7.64, 7.71, 7.79, 7.87, 7.98, 8.07, 8.17, 8.27, 8.36, 8.45, 8.55, 8.65, 8.78, 8.88, 8.99, 9.10, 9.22, 9.32, 9.47, 9.56, 9.85, 10.32, 10.54]],
  [0.46, [6.83, 6.97, 7.04, 7.10, 7.17, 7.24, 7.30, 7.36, 7.42, 7.49, 7.55, 7.63, 7.70, 7.77, 7.84, 7.92, 8.01, 8.10, 8.20, 8.30, 8.40, 8.49, 8.61, 8.70, 8.81, 8.90, 9.05, 9.16, 9.27, 9.45, 9.61, 9.75, 10.27, 10.49]],
  [0.42, [6.77, 7.00, 7.07, 7.13, 7.19, 7.25, 7.31, 7.37, 7.44, 7.50, 7.56, 7.62, 7.68, 7.75, 7.83, 7.90, 7.97, 8.05, 8.15, 8.25, 8.34, 8.43, 8.54, 8.64, 8.74, 8.85, 8.97, 9.07, 9.20, 9.31, 9.44, 9.58, 9.70, 9.83]],
  [0.38, [6.85, 6.95, 7.03, 7.09, 7.15, 7.20, 7.26, 7.32, 7.38, 7.43, 7.48, 7.54, 7.60, 7.66, 7.72, 7.80, 7.86, 7.94, 8.02, 8.12, 8.21, 8.31, 8.40, 8.50, 8.61, 8.71, 8.82, 8.94, 9.05, 9.17, 9.28, 9.41, 9.53, 9.67, 9.84, 9.98]],
  [0.35, [6.80, 6.90, 7.00, 7.05, 7.11, 7.17, 7.22, 7.27, 7.33, 7.39, 7.45, 7.51, 7.57, 7.62, 7.69, 7.77, 7.84, 7.92, 8.00, 8.09, 8.18, 8.27, 8.37, 8.47, 8.58, 8.68, 8.79, 8.90, 9.02, 9.14, 9.26, 9.37, 9.50, 9.62, 9.78, 9.93, 10.12]],
  [0.31, [6.88, 6.97, 7.02, 7.08, 7.13, 7.18, 7.24, 7.29, 7.34, 7.40, 7.46, 7.52, 7.58, 7.65, 7.72, 7.79, 7.87, 7.95, 8.04, 8.13, 8.23, 8.34, 8.44, 8.54, 8.65, 8.75, 8.87, 8.99, 9.11, 9.22, 9.33, 9.47, 9.59, 9.72, 9.89, 10.03]],
  [0.27, [6.92, 7.00, 7.06, 7.11, 7.16, 7.21, 7.26, 7.31, 7.36, 7.42, 7.47, 7.53, 7.60, 7.67, 7.74, 7.82, 7.90, 7.99, 8.07, 8.17, 8.28, 8.39, 8.50, 8.61, 8.72, 8.83, 8.95, 9.07, 9.19, 9.31, 9.43, 9.55, 9.69, 9.82, 9.97, 10.21, 10.47]],
  [0.24, [6.87, 6.95, 7.03, 7.09, 7.14, 7.19, 7.24, 7.29, 7.34, 7.38, 7.44, 7.50, 7.55, 7.62, 7.69, 7.76, 7.85, 7.93, 8.02, 8.11, 8.21, 8.32, 8.42, 8.54, 8.66, 8.78, 8.90, 9.02, 9.14, 9.26, 9.38, 9.51, 9.63, 9.76, 9.92, 10.08]],
  [0.21, [6.73, 6.93, 7.01, 7.07, 7.12, 7.17, 7.22, 7.27, 7.32, 7.37, 7.41, 7.47, 7.53, 7.58, 7.65, 7.72, 7.80, 7.89, 7.98, 8.07, 8.16, 8.26, 8.37, 8.49, 8.60, 8.72, 8.85, 8.96, 9.09, 9.21, 9.34, 9.46, 9.58, 9.73, 9.89, 10.04, 11.02]],
  [0.18, [6.90, 6.98, 7.04, 7.10, 7.15, 7.20, 7.25, 7.30, 7.35, 7.40, 7.45, 7.50, 7.56, 7.63, 7.70, 7.77, 7.84, 7.93, 8.03, 8.12, 8.22, 8.33, 8.45, 8.55, 8.68, 8.80, 8.93, 9.05, 9.16, 9.30, 9.41, 9.55, 9.68, 9.84, 10.00]],
  [0.15, [6.73, 6.88, 6.96, 7.02, 7.08, 7.13, 7.18, 7.23, 7.28, 7.33, 7.38, 7.43, 7.48, 7.55, 7.61, 7.68, 7.75, 7.82, 7.91, 8.00, 8.09, 8.19, 8.29, 8.40, 8.51, 8.63, 8.76, 8.88, 9.00, 9.12, 9.25, 9.37, 9.49, 9.62, 9.79, 9.94, 10.09]],
  [0.12, [6.80, 6.91, 6.99, 7.05, 7.11, 7.16, 7.21, 7.26, 7.31, 7.36, 7.41, 7.46, 7.52, 7.59, 7.66, 7.74, 7.81, 7.90, 7.98, 8.06, 8.15, 8.26, 8.36, 8.47, 8.58, 8.70, 8.82, 8.94, 9.07, 9.19, 9.31, 9.43, 9.58, 9.71, 9.87, 10.05, 10.17]],
  [0.09, [6.77, 6.86, 6.94, 7.03, 7.09, 7.14, 7.19, 7.24, 7.29, 7.34, 7.39, 7.44, 7.49, 7.54, 7.61, 7.69, 7.77, 7.84, 7.92, 8.02, 8.12, 8.22, 8.32, 8.43, 8.54, 8.67, 8.79, 8.91, 9.03, 9.14, 9.25, 9.39, 9.52, 9.64, 9.80, 9.93, 10.10, 10.37]],
  [0.06, [6.75, 6.84, 6.92, 7.01, 7.07, 7.12, 7.17, 7.22, 7.27, 7.32, 7.37, 7.42, 7.47, 7.53, 7.58, 7.65, 7.71, 7.79, 7.88, 7.97, 8.07, 8.17, 8.28, 8.38, 8.49, 8.61, 8.74, 8.86, 8.98, 9.10, 9.22, 9.35, 9.47, 9.60, 9.72, 9.87, 9.99, 10.14, 10.37, 10.60]],
  [0.03, [6.76, 6.82, 6.90, 6.98, 7.05, 7.10, 7.15, 7.20, 7.25, 7.30, 7.35, 7.40, 7.46, 7.51, 7.57, 7.63, 7.70, 7.76, 7.85, 7.94, 8.04, 8.13, 8.24, 8.36, 8.46, 8.57, 8.69, 8.80, 8.93, 9.05, 9.17, 9.31, 9.43, 9.56, 9.65, 9.78, 9.86, 10.02, 10.11]],
  [0.00, [6.77, 6.83, 6.88, 6.96, 7.03, 7.08, 7.13, 7.18, 7.23, 7.28, 7.33, 7.38, 7.44, 7.49, 7.55, 7.61, 7.67, 7.74, 7.82, 7.91, 8.00, 8.09, 8.19, 8.30, 8.41, 8.53, 8.65, 8.77, 8.89, 9.00, 9.12, 9.24, 9.37, 9.50, 9.63, 9.82, 9.92]]
];

/* the solid black part of panel (b) and the busy band over it */
const referenceDenseRows = [
  [0.015, [7.02, 7.05, 7.09, 7.12, 7.15, 7.19, 7.22, 7.26, 7.29, 7.32, 7.36, 7.39, 7.42, 7.46, 7.52, 7.58, 7.64, 7.71, 7.79, 7.87, 7.96, 8.05, 8.15, 8.26, 8.43, 8.58, 8.72, 8.84, 8.96, 9.18, 9.33]],
  [0.045, [7.01, 7.04, 7.07, 7.11, 7.14, 7.17, 7.21, 7.24, 7.27, 7.31, 7.34, 7.37, 7.41, 7.45, 7.50, 7.56, 7.62, 7.68, 7.75, 7.83, 7.93, 8.02, 8.11, 8.21, 8.34, 8.51, 8.64, 8.76, 8.91, 9.08, 9.27]],
  [0.075, [7.03, 7.06, 7.10, 7.13, 7.16, 7.20, 7.23, 7.26, 7.30, 7.33, 7.36, 7.40, 7.43, 7.47, 7.52, 7.59, 7.65, 7.72, 7.80, 7.89, 7.99, 8.08, 8.18, 8.29, 8.41, 8.55, 8.69, 8.83, 8.97, 9.12, 9.29]],
  [0.105, [7.02, 7.05, 7.08, 7.12, 7.15, 7.18, 7.22, 7.25, 7.28, 7.32, 7.35, 7.38, 7.42, 7.45, 7.50, 7.57, 7.63, 7.70, 7.78, 7.86, 7.95, 8.04, 8.14, 8.25, 8.37, 8.49, 8.62, 8.75, 8.88, 9.04, 9.22]],
  [0.135, [7.04, 7.07, 7.10, 7.14, 7.17, 7.20, 7.24, 7.27, 7.30, 7.34, 7.37, 7.40, 7.44, 7.48, 7.53, 7.60, 7.66, 7.73, 7.81, 7.90, 8.00, 8.11, 8.23, 8.35, 8.47, 8.60, 8.73, 8.85, 8.99, 9.15, 9.32]],
  [0.165, [7.00, 7.03, 7.06, 7.09, 7.13, 7.16, 7.19, 7.23, 7.26, 7.29, 7.33, 7.36, 7.39, 7.43, 7.47, 7.52, 7.58, 7.64, 7.71, 7.80, 7.88, 7.98, 8.08, 8.19, 8.31, 8.44, 8.57, 8.71, 8.86, 9.02, 9.19]],
  [0.195, [7.02, 7.05, 7.08, 7.11, 7.15, 7.18, 7.21, 7.25, 7.28, 7.31, 7.35, 7.38, 7.41, 7.45, 7.49, 7.55, 7.61, 7.67, 7.75, 7.83, 7.92, 8.01, 8.11, 8.23, 8.36, 8.48, 8.62, 8.77, 8.92, 9.08, 9.24]],
  [0.225, [6.99, 7.03, 7.06, 7.10, 7.13, 7.16, 7.20, 7.23, 7.26, 7.30, 7.33, 7.36, 7.40, 7.43, 7.47, 7.53, 7.59, 7.65, 7.73, 7.81, 7.90, 7.99, 8.09, 8.20, 8.33, 8.46, 8.60, 8.74, 8.90, 9.06, 9.23]],
  [0.255, [7.04, 7.07, 7.10, 7.13, 7.17, 7.20, 7.23, 7.27, 7.30, 7.33, 7.37, 7.40, 7.43, 7.46, 7.51, 7.57, 7.64, 7.71, 7.79, 7.88, 7.97, 8.06, 8.16, 8.28, 8.41, 8.55, 8.69, 8.83, 8.97, 9.13, 9.30]],
  [0.285, [7.01, 7.05, 7.08, 7.11, 7.15, 7.18, 7.22, 7.25, 7.28, 7.32, 7.35, 7.39, 7.42, 7.45, 7.50, 7.55, 7.62, 7.69, 7.76, 7.85, 7.94, 8.03, 8.13, 8.24, 8.38, 8.51, 8.65, 8.80, 8.94, 9.10, 9.26]],
  [0.325, [7.03, 7.06, 7.10, 7.13, 7.16, 7.20, 7.23, 7.26, 7.30, 7.33, 7.37, 7.41, 7.44, 7.48, 7.53, 7.60, 7.66, 7.74, 7.82, 7.91, 8.01, 8.12, 8.22, 8.33, 8.46, 8.60, 8.73, 8.87, 9.03, 9.18, 9.36]],
  [0.365, [7.02, 7.05, 7.08, 7.12, 7.15, 7.19, 7.22, 7.25, 7.29, 7.32, 7.36, 7.39, 7.43, 7.47, 7.52, 7.58, 7.65, 7.72, 7.80, 7.89, 7.98, 8.08, 8.19, 8.31, 8.43, 8.56, 8.70, 8.85, 9.00, 9.15, 9.34]],
  [0.40, [7.04, 7.07, 7.10, 7.14, 7.17, 7.21, 7.24, 7.28, 7.31, 7.35, 7.38, 7.42, 7.46, 7.51, 7.57, 7.63, 7.70, 7.78, 7.87, 7.96, 8.06, 8.17, 8.29, 8.41, 8.53, 8.66, 8.80, 8.96, 9.12, 9.30]],
  [0.44, [7.02, 7.06, 7.09, 7.13, 7.16, 7.20, 7.23, 7.27, 7.30, 7.34, 7.38, 7.41, 7.45, 7.50, 7.56, 7.62, 7.69, 7.76, 7.84, 7.94, 8.03, 8.14, 8.25, 8.37, 8.50, 8.63, 8.77, 8.93, 9.08, 9.25]],
  [0.48, [7.05, 7.08, 7.12, 7.16, 7.19, 7.23, 7.27, 7.32, 7.35, 7.40, 7.45, 7.50, 7.57, 7.63, 7.70, 7.78, 7.86, 7.95, 8.05, 8.17, 8.28, 8.41, 8.54, 8.68, 8.83, 8.98, 9.14, 9.31]],
  [0.52, [7.04, 7.09, 7.13, 7.18, 7.22, 7.26, 7.31, 7.36, 7.42, 7.47, 7.54, 7.60, 7.68, 7.76, 7.85, 7.96, 8.06, 8.18, 8.30, 8.43, 8.56, 8.70, 8.85, 9.01, 9.19, 9.37]],
  [0.56, [7.02, 7.07, 7.12, 7.17, 7.23, 7.29, 7.35, 7.41, 7.47, 7.53, 7.61, 7.69, 7.78, 7.88, 7.99, 8.11, 8.23, 8.36, 8.49, 8.62, 8.77, 8.94, 9.11, 9.30]],
  [0.60, [7.06, 7.11, 7.16, 7.22, 7.28, 7.34, 7.40, 7.46, 7.52, 7.59, 7.68, 7.77, 7.87, 7.98, 8.08, 8.21, 8.35, 8.47, 8.60, 8.75, 8.93, 9.11, 9.28]],
  [0.64, [7.10, 7.16, 7.21, 7.28, 7.33, 7.40, 7.45, 7.52, 7.62, 7.72, 7.81, 7.91, 8.03, 8.14, 8.26, 8.39, 8.50, 8.63, 8.78, 8.94, 9.14]],
  [0.68, [7.09, 7.14, 7.20, 7.27, 7.33, 7.39, 7.47, 7.53, 7.61, 7.73, 7.83, 7.92, 8.04, 8.14, 8.28, 8.43, 8.53, 8.67, 8.84, 9.10]],
  [0.71, [7.11, 7.18, 7.24, 7.30, 7.37, 7.43, 7.50, 7.60, 7.68, 7.79, 7.88, 7.97, 8.07, 8.18, 8.34, 8.44, 8.57, 8.70, 8.82]],
  [0.74, [7.07, 7.13, 7.20, 7.26, 7.32, 7.39, 7.47, 7.55, 7.65, 7.72, 7.84, 7.95, 8.03, 8.12, 8.20, 8.36, 8.49, 8.58, 8.66, 8.85]],
  [0.79, [7.12, 7.20, 7.27, 7.34, 7.42, 7.52, 7.58, 7.64, 7.74, 7.81, 7.90, 7.99, 8.10, 8.19, 8.29, 8.38, 8.52, 8.64, 8.77, 8.97]],
  [0.85, [7.15, 7.25, 7.33, 7.42, 7.48, 7.54, 7.62, 7.70, 7.77, 7.86, 7.95, 8.06, 8.15, 8.24, 8.35, 8.47, 8.59, 8.70]],
  [0.98, [7.27, 7.35, 7.44, 7.49, 7.60, 7.72, 7.83, 7.94, 8.03, 8.19, 8.28, 8.44, 8.58, 8.74]]
];

/* extra layer where the black of panel (b) closes up */
const referenceFillRows = [
  [0.008, [7.03, 7.07, 7.10, 7.14, 7.17, 7.20, 7.24, 7.27, 7.31, 7.34, 7.37, 7.41, 7.44, 7.48, 7.51, 7.55, 7.60, 7.66, 7.69, 7.73, 7.81, 7.90, 7.99, 8.10, 8.24, 8.39, 8.55, 8.68, 8.81, 8.99, 9.14]],
  [0.035, [7.03, 7.06, 7.08, 7.13, 7.16, 7.18, 7.23, 7.26, 7.28, 7.33, 7.36, 7.38, 7.43, 7.47, 7.50, 7.54, 7.58, 7.62, 7.66, 7.71, 7.77, 7.84, 7.92, 8.00, 8.09, 8.19, 8.31, 8.47, 8.62, 8.80, 8.92, 9.09, 9.26]],
  [0.062, [7.04, 7.08, 7.11, 7.15, 7.18, 7.21, 7.25, 7.28, 7.31, 7.35, 7.38, 7.41, 7.44, 7.49, 7.54, 7.60, 7.63, 7.67, 7.74, 7.82, 7.91, 8.01, 8.12, 8.23, 8.36, 8.47, 8.59, 8.71, 8.87, 9.03, 9.20]],
  [0.09, [7.01, 7.04, 7.08, 7.11, 7.14, 7.18, 7.21, 7.25, 7.28, 7.31, 7.35, 7.38, 7.41, 7.45, 7.49, 7.53, 7.56, 7.60, 7.67, 7.73, 7.80, 7.88, 7.98, 8.07, 8.17, 8.30, 8.42, 8.56, 8.68, 8.82, 8.98, 9.13]],
  [0.12, [7.03, 7.06, 7.09, 7.13, 7.16, 7.19, 7.23, 7.26, 7.29, 7.33, 7.36, 7.39, 7.43, 7.47, 7.51, 7.55, 7.61, 7.64, 7.71, 7.77, 7.84, 7.93, 8.03, 8.13, 8.24, 8.38, 8.52, 8.66, 8.80, 8.93, 9.09, 9.26]],
  [0.15, [7.01, 7.05, 7.08, 7.11, 7.15, 7.18, 7.21, 7.25, 7.29, 7.32, 7.35, 7.39, 7.42, 7.46, 7.50, 7.54, 7.57, 7.62, 7.69, 7.76, 7.84, 7.94, 8.05, 8.16, 8.27, 8.40, 8.53, 8.67, 8.82, 8.96, 9.11]],
  [0.18, [7.01, 7.05, 7.07, 7.11, 7.14, 7.18, 7.21, 7.24, 7.28, 7.31, 7.34, 7.38, 7.42, 7.46, 7.51, 7.55, 7.60, 7.67, 7.74, 7.81, 7.89, 8.00, 8.10, 8.21, 8.34, 8.48, 8.60, 8.75, 8.91, 9.07, 9.20]],
  [0.21, [7.03, 7.05, 7.09, 7.13, 7.15, 7.19, 7.24, 7.26, 7.29, 7.34, 7.36, 7.39, 7.43, 7.46, 7.50, 7.55, 7.61, 7.68, 7.75, 7.84, 7.93, 8.03, 8.14, 8.25, 8.39, 8.53, 8.67, 8.81, 8.93, 9.10, 9.28]],
  [0.24, [7.01, 7.05, 7.08, 7.11, 7.16, 7.18, 7.21, 7.25, 7.28, 7.32, 7.36, 7.39, 7.42, 7.46, 7.49, 7.54, 7.59, 7.66, 7.73, 7.82, 7.90, 8.01, 8.12, 8.22, 8.35, 8.48, 8.64, 8.78, 8.93, 9.06, 9.22]],
  [0.27, [7.02, 7.05, 7.08, 7.13, 7.15, 7.18, 7.23, 7.25, 7.29, 7.34, 7.37, 7.41, 7.44, 7.48, 7.51, 7.56, 7.62, 7.69, 7.77, 7.84, 7.93, 8.04, 8.14, 8.25, 8.37, 8.49, 8.63, 8.77, 8.92, 9.09, 9.25]],
  [0.30, [7.03, 7.07, 7.10, 7.14, 7.18, 7.21, 7.24, 7.27, 7.31, 7.34, 7.37, 7.40, 7.44, 7.47, 7.52, 7.57, 7.63, 7.70, 7.78, 7.87, 7.96, 8.06, 8.18, 8.30, 8.43, 8.57, 8.71, 8.85, 9.00, 9.15, 9.29]],
  [0.34, [7.02, 7.05, 7.08, 7.12, 7.15, 7.19, 7.21, 7.25, 7.28, 7.32, 7.35, 7.38, 7.42, 7.46, 7.50, 7.55, 7.61, 7.68, 7.75, 7.84, 7.93, 8.03, 8.14, 8.26, 8.39, 8.52, 8.66, 8.82, 8.97, 9.12, 9.31]],
  [0.38, [7.05, 7.08, 7.11, 7.14, 7.17, 7.21, 7.24, 7.27, 7.31, 7.34, 7.37, 7.41, 7.45, 7.50, 7.56, 7.63, 7.70, 7.77, 7.85, 7.92, 8.04, 8.16, 8.27, 8.38, 8.51, 8.65, 8.79, 8.94, 9.11]],
  [0.42, [7.03, 7.05, 7.09, 7.12, 7.15, 7.18, 7.22, 7.26, 7.29, 7.33, 7.36, 7.40, 7.45, 7.51, 7.58, 7.65, 7.71, 7.80, 7.87, 7.95, 8.07, 8.20, 8.33, 8.46, 8.58, 8.70, 8.84, 9.00, 9.17]],
  [0.46, [7.06, 7.09, 7.13, 7.16, 7.20, 7.23, 7.27, 7.31, 7.34, 7.38, 7.42, 7.47, 7.53, 7.59, 7.66, 7.74, 7.82, 7.90, 7.99, 8.13, 8.24, 8.36, 8.47, 8.58, 8.74, 8.93, 9.11, 9.28]],
  [0.51, [7.06, 7.11, 7.16, 7.21, 7.25, 7.29, 7.34, 7.39, 7.44, 7.50, 7.58, 7.66, 7.73, 7.82, 7.93, 8.03, 8.15, 8.26, 8.38, 8.51, 8.62, 8.75, 8.92, 9.09, 9.25]],
  [0.56, [7.09, 7.15, 7.20, 7.26, 7.32, 7.38, 7.44, 7.50, 7.57, 7.65, 7.74, 7.83, 7.95, 8.08, 8.18, 8.31, 8.44, 8.56, 8.69, 8.84, 9.00, 9.16]],
  [0.62, [7.08, 7.14, 7.20, 7.25, 7.31, 7.37, 7.43, 7.49, 7.56, 7.64, 7.74, 7.85, 7.95, 8.06, 8.19, 8.33, 8.43, 8.58, 8.72, 8.86, 9.08]],
  [0.70, [7.13, 7.19, 7.28, 7.35, 7.40, 7.48, 7.56, 7.64, 7.71, 7.80, 7.93, 8.02, 8.12, 8.26, 8.38, 8.51, 8.63, 8.78, 8.95]],
  [0.83, [7.17, 7.23, 7.30, 7.37, 7.44, 7.53, 7.61, 7.69, 7.75, 7.84, 7.92, 8.04, 8.11, 8.18, 8.31, 8.43, 8.54, 8.66, 8.81]]
];

/* ── HELPERS ── */
function rowsToPoints(rows) {
  const pts = [];
  rows.forEach(r => r[1].forEach(x => pts.push({ x: x, y: r[0] })));
  return pts;
}

const FONT = "'Liberation Sans', Arial, sans-serif";

/* the small caption inside each panel */
const captionPlugin = {
  id: 'caption',
  afterDraw(chart, args, opts) {
    const { ctx, scales } = chart;
    ctx.save();
    ctx.font = opts.size + 'px ' + FONT;
    ctx.fillStyle = '#111';
    ctx.textAlign = 'center';
    ctx.textBaseline = 'middle';
    ctx.fillText(opts.text, scales.x.getPixelForValue(opts.x), scales.y.getPixelForValue(opts.y));
    ctx.restore();
  }
};

function drawPanel(id, cfg) {
  new Chart(document.getElementById(id), {
    type: 'scatter',
    data: {
      datasets: [
        {
          type: 'line',
          data: cfg.lineX.map((x, i) => ({ x: x, y: cfg.lineY[i] })),
          borderColor: '#000',
          borderWidth: cfg.lineWidth,
          pointRadius: 0,
          tension: 0.4,
          fill: false,
          order: 0
        },
        {
          data: rowsToPoints(cfg.rows),
          pointRadius: 1.9,
          pointBorderWidth: 1.2,
          pointBorderColor: '#0a0a0a',
          pointBackgroundColor: 'rgba(0,0,0,0)',
          order: 1
        }
      ]
    },
    options: {
      responsive: false,
      animation: false,
      devicePixelRatio: 1,
      layout: { autoPadding: false, padding: { top: cfg.top, right: 0, bottom: 0, left: 0 } },
      plugins: {
        legend: { display: false },
        tooltip: { enabled: false },
        caption: { text: cfg.caption, x: cfg.captionX, y: cfg.captionY, size: 20.5 }
      },
      scales: {
        x: {
          type: 'linear',
          min: cfg.xMin,
          max: cfg.xMax,
          afterBuildTicks: axis => { axis.ticks = cfg.ticks.map(v => ({ value: v })); },
          afterFit: axis => { axis.height = cfg.belowAxis; axis.paddingRight = 0; axis.paddingLeft = 0; },
          grid: { drawOnChartArea: false, tickLength: 7, color: '#222', lineWidth: 1 },
          border: { color: '#000', width: 2 },
          ticks: { color: '#111', font: { family: FONT, size: 26 }, padding: 20, maxRotation: 0 },
          title: { display: true, text: 'Fitted Value', color: '#111', font: { family: FONT, size: 28 }, padding: { top: 0, bottom: 0 } }
        },
        xTop: {
          type: 'linear',
          position: 'top',
          min: cfg.xMin,
          max: cfg.xMax,
          afterFit: axis => { axis.height = 0; axis.paddingRight = 0; axis.paddingLeft = 0; },
          grid: { display: false },
          border: { color: '#000', width: 2 },
          ticks: { display: false }
        },
        y: {
          type: 'linear',
          min: cfg.yMin,
          max: cfg.yMax,
          afterFit: axis => { axis.width = 90; },
          grid: { display: false },
          border: { color: '#000', width: 2 },
          ticks: { display: false },
          title: { display: true, text: 'Absolute Residual', color: '#111', font: { family: FONT, size: 28 }, padding: { top: 5, bottom: 0 } }
        }
      }
    },
    plugins: [captionPlugin]
  });
}

/* ── PANELS ── */
drawPanel('latin', {
  rows: latinRows.concat(latinDenseRows, latinFillRows), lineX: latinLineFitted, lineY: latinLineResidual, lineWidth: 2.5,
  ticks: latinTicks, xMin: 5.51, xMax: 11.89, yMin: -0.38, yMax: 4.21, top: 7, belowAxis: 96,
  caption: '(a) Latin Square', captionX: 10.56, captionY: 3.32
});
drawPanel('reference', {
  rows: referenceRows.concat(referenceDenseRows, referenceFillRows), lineX: referenceLineFitted, lineY: referenceLineResidual, lineWidth: 5,
  ticks: referenceTicks, xMin: 6.29, xMax: 11.397, yMin: -0.38, yMax: 4.2, top: 68, belowAxis: 95,
  caption: '(b) Reference Design', captionX: 10.04, captionY: 3.32
});
</script>
</body>
</html>
